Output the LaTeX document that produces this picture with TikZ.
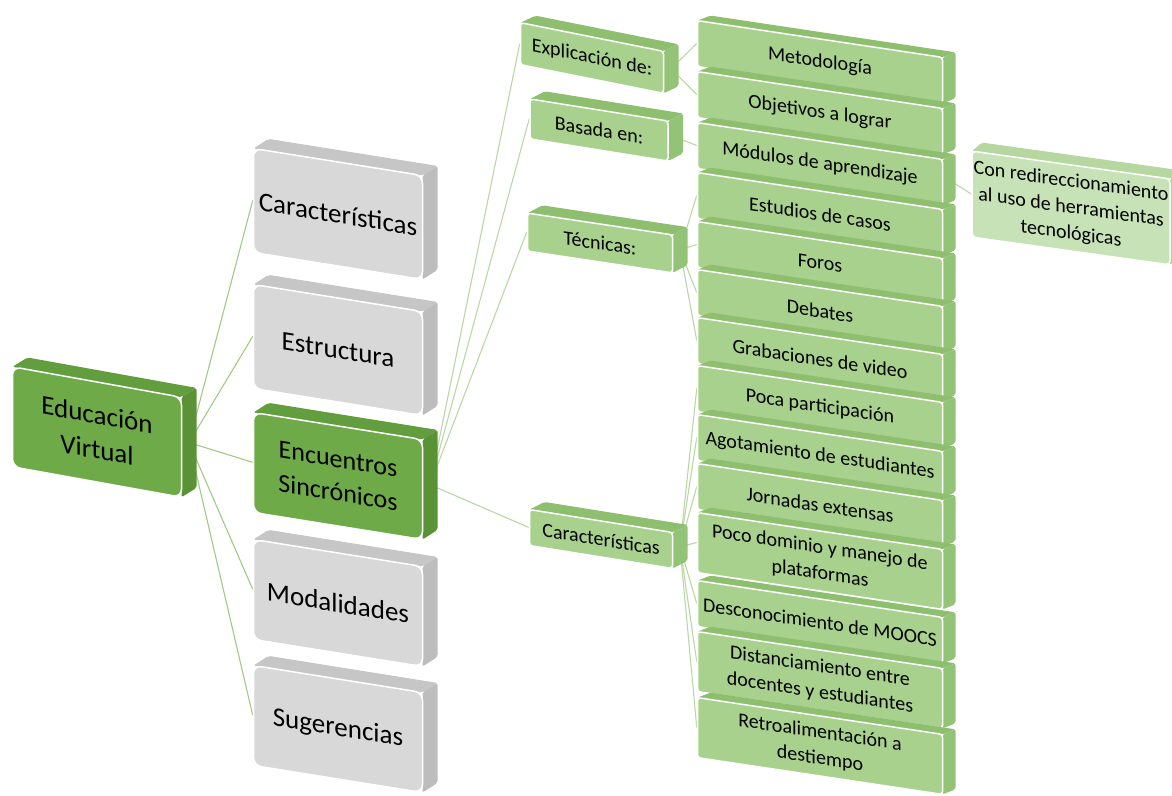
\documentclass[tikz,border=0pt]{standalone}
\usepackage{fontspec}
\setmainfont{Carlito}
\usetikzlibrary{calc}
\pgfdeclarelayer{bg}
\pgfsetlayers{bg,main}

% face colours of each kind of slab
\definecolor{darkfront}{HTML}{6EAB48}
\definecolor{darktop}{HTML}{629D3E}
\definecolor{darkside}{HTML}{5A9236}
\definecolor{greyfront}{HTML}{D8D8D8}
\definecolor{greytop}{HTML}{C6C6C6}
\definecolor{greyside}{HTML}{BDBDBD}
\definecolor{leaffront}{HTML}{A9D18E}
\definecolor{leaftop}{HTML}{8DBF6E}
\definecolor{leafside}{HTML}{93C376}
\colorlet{midfront}{leaffront}
\colorlet{midtop}{leaftop}
\colorlet{midside}{leafside}
\definecolor{palefront}{HTML}{C8E2B7}
\definecolor{paletop}{HTML}{B6D8A0}
\definecolor{paleside}{HTML}{AED49A}
\definecolor{connector}{HTML}{9FCB83}
\definecolor{softconnector}{HTML}{BAD7A6}

% depth of each kind of slab (x to the right, y upwards) and corner radius
\def\darkdx{15}\def\darkdy{12}\def\darkr{8}
\def\greydx{15}\def\greydy{12}\def\greyr{8}
\def\middx{15}\def\middy{10}\def\midr{3}
\def\leafdx{13}\def\leafdy{7}\def\leafr{3}
\def\paledx{10}\def\paledy{10}\def\paler{4}

% \slab{name}{x}{y}{width}{height}{slope}{kind}{font size}{text}
\newcommand\slab[9]{%
  \begin{scope}[shift={(#2,#3)}, yslant=-#6]
    \edef\DX{\csname #7dx\endcsname}%
    \edef\DY{\csname #7dy\endcsname}%
    \edef\RR{\csname #7r\endcsname}%
    \pgfmathsetmacro\LS{1.3*#8}%
    \fill[#7top, rounded corners=2]
      (-#4/2,-#5/2) -- (-#4/2+\DX,-#5/2-\DY) -- (#4/2+\DX,-#5/2-\DY) -- (#4/2,-#5/2) -- cycle;
    \fill[#7side, rounded corners=2]
      (#4/2,-#5/2) -- (#4/2+\DX,-#5/2-\DY) -- (#4/2+\DX,#5/2-\DY) -- (#4/2,#5/2) -- cycle;
    \node[slabface, fill=#7front, rounded corners=\RR, minimum width=#4, minimum height=#5,
          font=\fontsize{#8}{\LS}\selectfont] (#1) at (0,0) {#9};
    \coordinate (#1-o) at (#4/2+\DX/2,-\DY/2);
  \end{scope}}

\tikzset{
  slabface/.style={draw=white, line width=1.5pt, transform shape, align=center,
                   inner sep=0pt, text=black},
  conn/.style={draw=connector, line width=1.1pt},
  softconn/.style={draw=softconnector, line width=1.1pt}
}

\begin{document}
\begin{tikzpicture}[x=1pt, y=-1pt]
\useasboundingbox (0,0) rectangle (1172,795);

% root
\slab{ev}{97}{432}{169}{100}{0.18}{dark}{27}{Educación\\Virtual}

% first level
\slab{car}{338}{214}{169}{104}{0.16}{grey}{27}{Características}
\slab{est}{338}{350}{169}{104}{0.16}{grey}{27}{Estructura}
\slab{enc}{338}{476}{169}{100}{0.16}{dark}{26}{Encuentros\\Sincrónicos}
\slab{mod}{338}{603}{169}{100}{0.16}{grey}{27}{Modalidades}
\slab{sug}{338}{729}{169}{100}{0.16}{grey}{27}{Sugerencias}

% second level
\slab{exp}{592}{58}{143}{42}{0.2}{mid}{20}{Explicación de:}
\slab{bas}{599}{130}{138}{40}{0.16}{mid}{20}{Basada en:}
\slab{tec}{600}{243}{145}{38}{0.15}{mid}{20}{Técnicas:}
\slab{cars}{601}{539}{143}{36}{0.16}{mid}{20}{Características}

% third level
\slab{l1}{820}{62}{245}{46}{0.15}{leaf}{20}{Metodología}
\slab{l2}{820}{113}{245}{46}{0.15}{leaf}{20}{Objetivos a lograr}
\slab{l3}{820}{164}{245}{46}{0.15}{leaf}{20}{Módulos de aprendizaje}
\slab{l4}{820}{214}{245}{46}{0.15}{leaf}{20}{Estudios de casos}
\slab{l5}{820}{263}{245}{46}{0.15}{leaf}{20}{Foros}
\slab{l6}{820}{311}{245}{46}{0.15}{leaf}{20}{Debates}
\slab{l7}{820}{359}{245}{46}{0.15}{leaf}{20}{Grabaciones de video}
\slab{l8}{820}{407}{245}{46}{0.15}{leaf}{20}{Poca participación}
\slab{l9}{820}{456}{245}{46}{0.15}{leaf}{20}{Agotamiento de estudiantes}
\slab{l10}{820}{505}{245}{46}{0.15}{leaf}{20}{Jornadas extensas}
\slab{l11}{820}{561}{245}{60}{0.15}{leaf}{20}{Poco dominio y manejo de\\plataformas}
\slab{l12}{820}{622}{245}{46}{0.15}{leaf}{20}{Desconocimiento de MOOCS}
\slab{l13}{820}{680}{245}{60}{0.15}{leaf}{20}{Distanciamiento entre\\docentes y estudiantes}
\slab{l14}{820}{746}{245}{60}{0.15}{leaf}{20}{Retroalimentación a\\destiempo}

% note on the modules
\slab{con}{1071}{208}{198}{86}{0.14}{pale}{20}{Con redireccionamiento\\al uso de herramientas\\tecnológicas}

% connectors behind the slabs
\begin{pgfonlayer}{bg}
  \foreach \c in {car,est,enc,mod,sug} \draw[conn] (ev-o) -- (\c.west);
  \foreach \c in {exp,bas,tec,cars} \draw[softconn] (enc-o) -- (\c.west);
  \foreach \c in {l1,l2} \draw[softconn] (exp-o) -- (\c.west);
  \draw[softconn] (bas-o) -- (l3.west);
  \foreach \c in {l4,l5,l6,l7} \draw[softconn] (tec-o) -- (\c.west);
  \foreach \c in {l8,l9,l10,l11,l12,l13,l14} \draw[softconn] (cars-o) -- (\c.west);
  \draw[softconn] (l3-o) -- (con.west);
\end{pgfonlayer}
\end{tikzpicture}
\end{document}
